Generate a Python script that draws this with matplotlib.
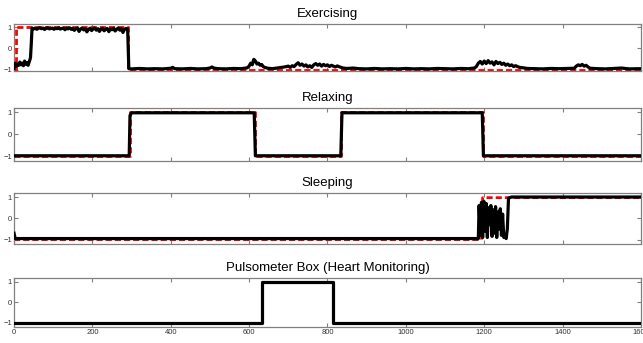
import matplotlib
matplotlib.use('Agg')
import matplotlib.pyplot as plt

plt.rcParams['font.family'] = ['Liberation Sans', 'DejaVu Sans']

# Exercising: classifier output (black), split into three stretches
ex_t_start = [0, 3, 6, 9, 12, 15, 18, 21, 24, 27, 30, 33, 36, 39, 42, 44]
ex_out_start = [-0.95, -0.7, -0.85, -0.75, -0.8, -0.65, -0.78, -0.7, -0.82, -0.6,
                -0.75, -0.68, -0.8, -0.62, -0.45, 0.2]

ex_t_high = [46, 50, 54, 58, 62, 66, 70, 74, 78, 82, 86, 90, 94, 98, 102, 106, 110, 114,
             118, 122, 126, 130, 134, 138, 142, 146, 150, 154, 158, 162, 166, 170, 174, 178,
             182, 186, 190, 194, 198, 202, 206, 210, 214, 218, 222, 226, 230, 234, 238, 242,
             246, 250, 254, 258, 262, 266, 270, 274, 278, 282, 286, 290]
ex_out_high = [0.95, 0.92, 0.96, 0.9, 0.95, 0.97, 0.93, 0.96, 0.89, 0.95,
               0.97, 0.92, 0.94, 0.96, 0.9, 0.95, 0.93, 0.97, 0.91, 0.94,
               0.96, 0.88, 0.95, 0.92, 0.97, 0.9, 0.94, 0.85, 0.93, 0.96,
               0.8, 0.92, 0.95, 0.87, 0.93, 0.78, 0.9, 0.95, 0.84, 0.92,
               0.96, 0.86, 0.93, 0.8, 0.91, 0.95, 0.83, 0.9, 0.94, 0.79,
               0.92, 0.88, 0.95, 0.82, 0.9, 0.96, 0.86, 0.93, 0.75, 0.9, 0.94, 0.92]

ex_t_low = [293, 300, 320, 340, 360, 380, 400, 405, 410, 430, 450, 470, 490, 500, 505, 510,
            520, 540, 560, 580, 595, 600, 604, 608, 612, 616, 620, 624, 628, 632, 636, 640,
            648, 660, 675, 690, 700, 705, 710, 715, 720, 725, 730, 735, 740, 745, 750, 755,
            760, 765, 770, 775, 780, 785, 790, 795, 800, 805, 810, 815, 820, 825, 830, 835,
            840, 850, 865, 880, 900, 920, 940, 960, 980, 1000, 1020, 1040, 1060, 1080, 1100,
            1120, 1140, 1160, 1175, 1180, 1185, 1190, 1195, 1200, 1205, 1210, 1215, 1220, 1225,
            1230, 1235, 1240, 1245, 1250, 1255, 1260, 1265, 1270, 1275, 1280, 1290, 1300, 1310,
            1330, 1350, 1370, 1390, 1410, 1430, 1435, 1440, 1445, 1450, 1455, 1460, 1465, 1470,
            1490, 1510, 1530, 1550, 1570, 1600]
ex_out_low = [-0.96, -0.97, -0.95, -0.97, -0.96, -0.97, -0.94, -0.9, -0.96, -0.97, -0.95, -0.97,
              -0.96, -0.93, -0.88, -0.93,
              -0.96, -0.97, -0.95, -0.96, -0.92, -0.84, -0.7, -0.78, -0.52, -0.6, -0.74, -0.7,
              -0.8, -0.76, -0.86, -0.9,
              -0.94, -0.96, -0.92, -0.88, -0.84, -0.9, -0.82, -0.86, -0.76, -0.68, -0.8, -0.74,
              -0.84, -0.78, -0.88, -0.82,
              -0.9, -0.78, -0.72, -0.8, -0.74, -0.84, -0.76, -0.82, -0.78, -0.86, -0.8, -0.84,
              -0.88, -0.83, -0.87, -0.9,
              -0.93, -0.95, -0.93, -0.96, -0.97, -0.95, -0.97, -0.96, -0.97, -0.95, -0.97,
              -0.96, -0.97, -0.95, -0.96,
              -0.97, -0.95, -0.96, -0.93, -0.86, -0.7, -0.62, -0.74, -0.6, -0.72, -0.58, -0.7,
              -0.64, -0.78,
              -0.62, -0.72, -0.66, -0.76, -0.7, -0.8, -0.74, -0.82, -0.78, -0.86, -0.82, -0.9,
              -0.92, -0.95,
              -0.96, -0.97, -0.95, -0.96, -0.95, -0.94, -0.84, -0.78, -0.82, -0.76, -0.84, -0.8,
              -0.88, -0.94,
              -0.96, -0.97, -0.95, -0.93, -0.97, -0.96]

ex_t = ex_t_start + ex_t_high + ex_t_low
ex_out = ex_out_start + ex_out_high + ex_out_low
ex_truth_t = [0, 5, 5, 291, 291, 1600]
ex_truth = [-1, -1, 1, 1, -1, -1]

# Relaxing
rel_t = [0, 294, 296, 300, 613, 616, 834, 837, 1195, 1198, 1600]
rel_out = [-0.97, -0.97, 0.85, 0.97, 0.97, -0.97, -0.97, 0.97, 0.97, -0.97, -0.97]
rel_truth_t = [0, 295, 295, 615, 615, 835, 835, 1196, 1196, 1600]
rel_truth = [-1, -1, 1, 1, -1, -1, 1, 1, -1, -1]

# Sleeping
sl_t = [0, 3, 1185, 1187, 1190, 1193, 1196, 1199, 1202, 1205, 1208, 1211, 1214, 1217, 1220,
        1223, 1226, 1229, 1232, 1235, 1238, 1241, 1244, 1247, 1250, 1253, 1256, 1259, 1262,
        1270, 1600]
sl_out = [-0.7, -0.95, -0.95, 0.6, -0.8, 0.75, -0.9, 0.8, -0.6, 0.7, -0.9, 0.5, -0.3, 0.6, -0.85,
          0.4, -0.7, 0.55, -0.9, 0.3, -0.5, 0.45, -0.8, 0.2, -0.9, -0.85, -0.95, -0.5, 0.95,
          1.0, 1.0]
sl_truth_t = [0, 1193, 1196, 1600]
sl_truth = [-1, -1, 0.97, 0.97]

# Pulsometer box (heart monitoring)
hr_t = [0, 632, 632, 813, 813, 1600]
hr_out = [-1, -1, 1, 1, -1, -1]

panels = [
    ('Exercising', ex_t, ex_out, ex_truth_t, ex_truth, (-1.07, 1.15)),
    ('Relaxing', rel_t, rel_out, rel_truth_t, rel_truth, (-1.2, 1.2)),
    ('Sleeping', sl_t, sl_out, sl_truth_t, sl_truth, (-1.2, 1.2)),
    ('Pulsometer Box (Heart Monitoring)', hr_t, hr_out, None, None, (-1.2, 1.2)),
]

# axes rectangles in figure fraction: left, bottom, width, height
rects = [
    (0.0218, 0.793, 0.975, 0.137),
    (0.0218, 0.531, 0.975, 0.155),
    (0.0218, 0.289, 0.975, 0.149),
    (0.0218, 0.047, 0.975, 0.143),
]

fig = plt.figure(figsize=(6.43, 3.43), dpi=100)
grey = '#808080'

for i, (name, t, out, tt, truth, ylim) in enumerate(panels):
    ax = fig.add_axes(rects[i])
    if tt is not None:
        ax.plot(tt, truth, color='red', lw=2, dashes=(2.2, 1.1), zorder=2)
    ax.plot(t, out, color='black', lw=2.3, zorder=3)
    ax.set_xlim(0, 1600)
    ax.set_ylim(*ylim)
    ax.set_yticks([-1, 0, 1])
    ax.set_xticks(range(0, 1601, 200))
    ax.set_title(name, fontsize=9.5, pad=5)
    ax.tick_params(direction='in', top=True, right=True, length=3, width=0.8,
                   color=grey, labelsize=5.5, labelcolor='#333333', pad=1.5)
    for s in ax.spines.values():
        s.set_color(grey)
        s.set_linewidth(0.9)
    if i < 3:
        ax.tick_params(labelbottom=False)

plt.savefig('out.png', dpi=100)
